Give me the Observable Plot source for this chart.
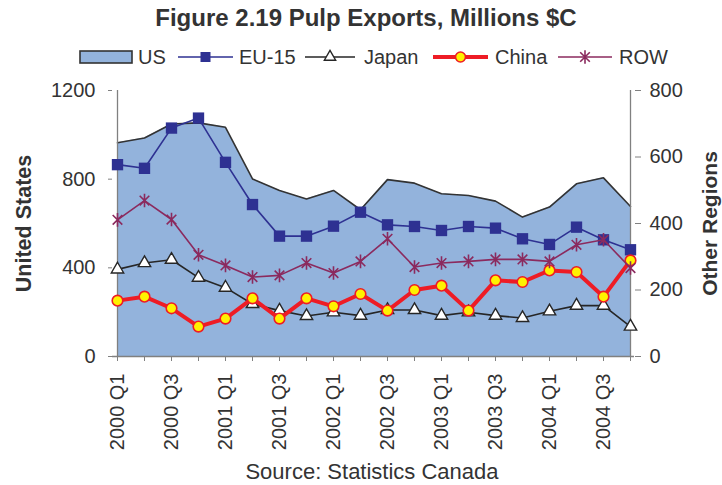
<!DOCTYPE html>
<html>
<head>
<meta charset="utf-8">
<script src="https://cdn.jsdelivr.net/npm/d3@7"></script>
<script src="https://cdn.jsdelivr.net/npm/@observablehq/plot@0.6"></script>
<style>
  html, body { margin: 0; padding: 0; background: #fff; }
  body { width: 722px; height: 485px; overflow: hidden; font-family: "Liberation Sans", Arial, sans-serif; color: #333; }
  #header { position: relative; width: 722px; height: 76px; }
  #title { position: absolute; left: 5px; top: 0; width: 722px; height: 36px; line-height: 36px; text-align: center; font-size: 24px; font-weight: bold; color: #333; }
  #legend { position: absolute; left: 0; top: 0; }
  #caption { position: relative; left: 11px; width: 722px; height: 27px; line-height: 27px; text-align: center; font-size: 22px; color: #333; }
  #chart svg { display: block; }
</style>
</head>
<body>
<div id="header">
  <div id="title">Figure 2.19 Pulp Exports, Millions $C</div>
  <svg id="legend" width="722" height="76"></svg>
</div>
<div id="chart"></div>
<div id="caption">Source: Statistics Canada</div>
<script>
// ---- data ----
const quarters = [
  "2000 Q1","2000 Q2","2000 Q3","2000 Q4",
  "2001 Q1","2001 Q2","2001 Q3","2001 Q4",
  "2002 Q1","2002 Q2","2002 Q3","2002 Q4",
  "2003 Q1","2003 Q2","2003 Q3","2003 Q4",
  "2004 Q1","2004 Q2","2004 Q3","2004 Q4"
];
const us    = [964, 986, 1049, 1054, 1034, 801, 749, 711, 749, 662, 798, 782, 734, 726, 701, 629, 674, 779, 806, 677];
const eu15  = [577, 566, 687, 717, 584, 457, 362, 362, 392, 434, 396, 391, 379, 391, 386, 354, 337, 389, 351, 321];
const japan = [262, 281, 291, 237, 207, 158, 138, 122, 133, 123, 140, 140, 123, 133, 123, 116, 136, 153, 153, 90];
const china = [168, 180, 145, 90, 114, 175, 114, 175, 151, 188, 138, 200, 213, 138, 229, 224, 259, 254, 180, 289];
const row   = [411, 469, 412, 306, 274, 239, 244, 281, 251, 286, 354, 269, 281, 286, 292, 292, 286, 336, 351, 266];
const leftTicks  = [0, 400, 800, 1200];
const rightTicks = [0, 200, 400, 600, 800];
const leftMax = 1200, rightMax = 800;
const RATIO = leftMax / rightMax; // right axis values mapped onto the left scale

const colors = { US: "#93b3dc", EU: "#2e3192", Japan: "#262626", China: "#ee1c25", ROW: "#8b2a5e" };

const usData = quarters.map((q, i) => ({ q, v: us[i] }));
const mk = (arr) => quarters.map((q, i) => ({ q, v: arr[i] }));
const euData = mk(eu15), jpData = mk(japan), cnData = mk(china), rwData = mk(row);
const yR = d => d.v * RATIO;

// Excel-like star marker: vertical bar plus an X
const star = {
  draw(ctx, size) {
    const r = Math.sqrt(size / Math.PI);
    const k = r * Math.SQRT1_2;
    ctx.moveTo(0, -r); ctx.lineTo(0, r);
    ctx.moveTo(-k, -k); ctx.lineTo(k, k);
    ctx.moveTo(-k, k); ctx.lineTo(k, -k);
  }
};

const font = "Liberation Sans, Arial, sans-serif";
const axisGrey = "#808080";

const chart = Plot.plot({
  width: 722,
  height: 382,
  marginLeft: 112,
  marginRight: 88,
  marginTop: 14,
  marginBottom: 102,
  style: { fontFamily: font, fontSize: "20px", color: "#333", background: "transparent" },
  x: { type: "point", domain: quarters, padding: 0 },
  y: { domain: [0, leftMax] },
  marks: [
    Plot.areaY(usData, { x: "q", y: "v", fill: colors.US }),
    Plot.lineY(usData, { x: "q", y: "v", stroke: "#333", strokeWidth: 1.6 }),
    // axis lines
    Plot.ruleY([0], { stroke: axisGrey, strokeWidth: 1.3 }),
    Plot.ruleX([quarters[0], quarters[quarters.length - 1]], { stroke: axisGrey, strokeWidth: 1.3 }),
    // EU-15
    Plot.lineY(euData, { x: "q", y: yR, stroke: colors.EU, strokeWidth: 1.6 }),
    Plot.dot(euData, { x: "q", y: yR, symbol: "square", r: 6.4, fill: colors.EU, stroke: "none" }),
    // Japan
    Plot.lineY(jpData, { x: "q", y: yR, stroke: colors.Japan, strokeWidth: 1.6 }),
    Plot.dot(jpData, { x: "q", y: yR, symbol: "triangle", r: 4.6, fill: "#fff", stroke: colors.Japan, strokeWidth: 1.4 }),
    // China
    Plot.lineY(cnData, { x: "q", y: yR, stroke: colors.China, strokeWidth: 4 }),
    Plot.dot(cnData, { x: "q", y: yR, r: 5.3, fill: "#fff200", stroke: colors.China, strokeWidth: 1.6 }),
    // ROW
    Plot.lineY(rwData, { x: "q", y: yR, stroke: colors.ROW, strokeWidth: 1.6 }),
    Plot.dot(rwData, { x: "q", y: yR, symbol: star, r: 6.8, fill: "none", stroke: colors.ROW, strokeWidth: 1.6 }),
    // axes
    Plot.axisY(leftTicks, { anchor: "left", tickSize: 4, tickPadding: 13, stroke: axisGrey, label: null, fontSize: 20,
      tickFormat: d => String(d) }),
    Plot.axisY(rightTicks.map(v => v * RATIO), { anchor: "right", tickSize: 6, tickPadding: 9, stroke: axisGrey, label: null, fontSize: 20,
      tickFormat: d => String(Math.round(d / RATIO)) }),
    Plot.axisX(quarters, { anchor: "bottom", tickSize: 5, tickPadding: 12, tickRotate: -90, stroke: axisGrey, label: null, fontSize: 20,
      tickFormat: d => (quarters.indexOf(d) % 2 === 0 ? d : "") }),
    // axis titles
    Plot.text(["United States"], { frameAnchor: "left", textAnchor: "middle", rotate: -90, dx: -88, fontWeight: "bold", fontSize: 21.5, fill: "#333" }),
    Plot.text(["Other Regions"], { frameAnchor: "right", textAnchor: "middle", rotate: -90, dx: 76, fontWeight: "bold", fontSize: 21, fill: "#333" })
  ]
});
document.getElementById("chart").appendChild(chart);

// ---- legend ----
const legendItems = [
  { name: "US", kind: "area", x0: 80, x1: 132, tx: 138 },
  { name: "EU-15", kind: "EU", x0: 178, x1: 233, tx: 239 },
  { name: "Japan", kind: "Japan", x0: 305, x1: 355, tx: 364 },
  { name: "China", kind: "China", x0: 433, x1: 488, tx: 495 },
  { name: "ROW", kind: "ROW", x0: 558, x1: 612, tx: 619 }
];
const lg = d3.select("#legend");
const cy = 57;
for (const it of legendItems) {
  const cx = (it.x0 + it.x1) / 2;
  if (it.kind === "area") {
    lg.append("rect").attr("x", it.x0).attr("y", cy - 6).attr("width", it.x1 - it.x0).attr("height", 12)
      .attr("fill", colors.US).attr("stroke", "#333").attr("stroke-width", 1.6);
  } else {
    const col = colors[it.kind];
    lg.append("line").attr("x1", it.x0).attr("x2", it.x1).attr("y1", cy).attr("y2", cy)
      .attr("stroke", col).attr("stroke-width", it.kind === "China" ? 4 : 1.6);
    if (it.kind === "EU") {
      lg.append("rect").attr("x", cx - 5).attr("y", cy - 5).attr("width", 10).attr("height", 10).attr("fill", col);
    } else if (it.kind === "Japan") {
      lg.append("path").attr("d", d3.symbol(d3.symbolTriangle, Math.PI * 4.2 * 4.2)()).attr("transform", `translate(${cx},${cy})`)
        .attr("fill", "#fff").attr("stroke", col).attr("stroke-width", 1.4);
    } else if (it.kind === "China") {
      lg.append("circle").attr("cx", cx).attr("cy", cy).attr("r", 5).attr("fill", "#fff200").attr("stroke", col).attr("stroke-width", 1.6);
    } else if (it.kind === "ROW") {
      lg.append("path").attr("d", d3.symbol(star, Math.PI * 6.8 * 6.8)()).attr("transform", `translate(${cx},${cy})`)
        .attr("fill", "none").attr("stroke", col).attr("stroke-width", 1.6);
    }
  }
  lg.append("text").attr("x", it.tx).attr("y", cy).attr("dy", "0.35em").attr("font-size", 20)
    .attr("font-family", font).attr("fill", "#333").text(it.name);
}
</script>
</body>
</html>
